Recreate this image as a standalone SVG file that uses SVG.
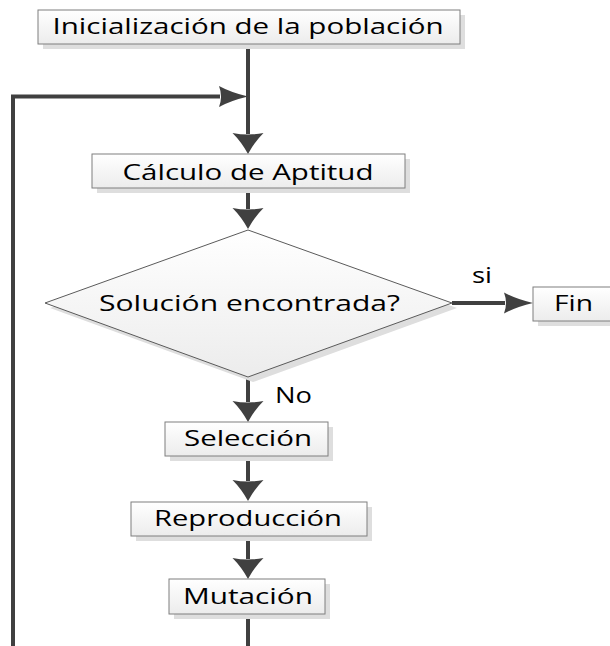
<svg xmlns="http://www.w3.org/2000/svg" width="610" height="646" viewBox="0 0 610 646">
  <defs>
    <linearGradient id="fillG" x1="0" y1="0" x2="0" y2="1">
      <stop offset="0" stop-color="#ffffff"/>
      <stop offset="1" stop-color="#ececec"/>
    </linearGradient>
    <marker id="arrH" markerUnits="userSpaceOnUse" markerWidth="30" markerHeight="22" refX="1" refY="10.5" orient="auto" overflow="visible">
      <path d="M0,0 Q12,6.5 29,10.5 Q12,14.5 0,21 Q4,10.5 0,0 Z" fill="#404040"/>
    </marker>
    <marker id="arrV" markerUnits="userSpaceOnUse" markerWidth="22" markerHeight="32" refX="1" refY="15.5" orient="auto" overflow="visible">
      <path d="M0,0 Q9,9 21,15.5 Q9,22 0,31 Q3,15.5 0,0 Z" fill="#404040"/>
    </marker>
  </defs>
  <style>
    .shadow { fill: #dedede; }
    .box { fill: url(#fillG); stroke: #7f7f7f; stroke-width: 1; }
    .dia { fill: url(#fillG); stroke: #5a5a5a; stroke-width: 1; }
    .lbl { font-family: "Open Sans", "Noto Sans", "DejaVu Sans", sans-serif; font-size: 22px; fill: #000000; }
    .conn { fill: none; stroke: #404040; stroke-width: 4; }
  </style>
  <rect width="610" height="646" fill="#ffffff"/>

  <g id="connectors">
    <path class="conn" d="M248,44 L248,134" marker-end="url(#arrV)"/>
    <path class="conn" d="M13,646 L13,96.5 L220,96.5" marker-end="url(#arrH)"/>
    <path class="conn" d="M248,188 L248,209" marker-end="url(#arrV)"/>
    <path class="conn" d="M452,303 L505,303" marker-end="url(#arrH)"/>
    <path class="conn" d="M248,377 L248,402" marker-end="url(#arrV)"/>
    <path class="conn" d="M248,456 L248,481" marker-end="url(#arrV)"/>
    <path class="conn" d="M248,536 L248,559" marker-end="url(#arrV)"/>
    <path class="conn" d="M248,614 L248,646"/>
    <text class="lbl" x="482" y="283" text-anchor="middle" textLength="20" lengthAdjust="spacingAndGlyphs">si</text>
    <text class="lbl" x="275" y="403" textLength="37" lengthAdjust="spacingAndGlyphs">No</text>
  </g>

  <g id="init">
    <rect class="shadow" x="43" y="15" width="422" height="34"/>
    <rect class="box" x="38" y="10" width="422" height="34"/>
    <text class="lbl" x="248" y="34" text-anchor="middle" textLength="391" lengthAdjust="spacingAndGlyphs">Inicialización de la población</text>
  </g>

  <g id="aptitud">
    <rect class="shadow" x="97" y="159" width="313" height="34"/>
    <rect class="box" x="92" y="154" width="313" height="34"/>
    <text class="lbl" x="248" y="180" text-anchor="middle" textLength="251" lengthAdjust="spacingAndGlyphs">Cálculo de Aptitud</text>
  </g>

  <g id="decision">
    <polygon class="shadow" points="253,235 457,308 253,382 50,308"/>
    <polygon class="dia" points="248,230 452,303 248,377 45,303"/>
    <text class="lbl" x="249.5" y="311" text-anchor="middle" textLength="301" lengthAdjust="spacingAndGlyphs">Solución encontrada?</text>
  </g>

  <g id="fin">
    <rect class="shadow" x="538" y="292" width="81" height="34"/>
    <rect class="box" x="533" y="287" width="81" height="34"/>
    <text class="lbl" x="573.5" y="311" text-anchor="middle" textLength="39" lengthAdjust="spacingAndGlyphs">Fin</text>
  </g>

  <g id="seleccion">
    <rect class="shadow" x="170" y="427" width="163" height="34"/>
    <rect class="box" x="165" y="422" width="163" height="34"/>
    <text class="lbl" x="248" y="446" text-anchor="middle" textLength="128" lengthAdjust="spacingAndGlyphs">Selección</text>
  </g>

  <g id="reproduccion">
    <rect class="shadow" x="136" y="507" width="236" height="34"/>
    <rect class="box" x="131" y="502" width="236" height="34"/>
    <text class="lbl" x="248" y="526" text-anchor="middle" textLength="188" lengthAdjust="spacingAndGlyphs">Reproducción</text>
  </g>

  <g id="mutacion">
    <rect class="shadow" x="174" y="584" width="156" height="35"/>
    <rect class="box" x="169" y="579" width="156" height="35"/>
    <text class="lbl" x="248" y="604" text-anchor="middle" textLength="130" lengthAdjust="spacingAndGlyphs">Mutación</text>
  </g>
</svg>
